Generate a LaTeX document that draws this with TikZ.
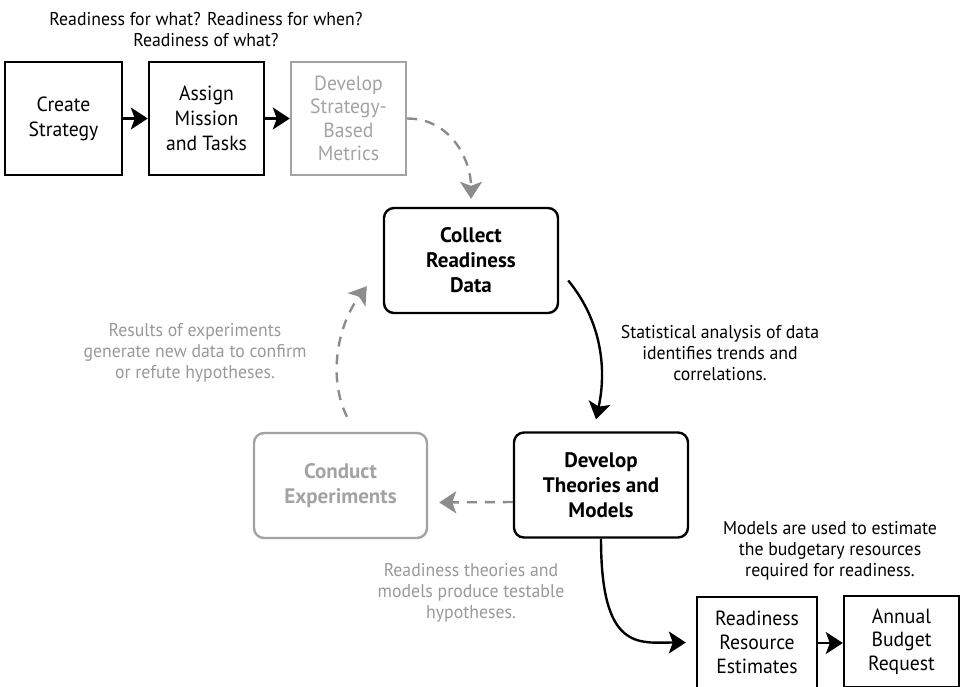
\documentclass[tikz,border=0pt]{standalone}
\usepackage{fontspec}
\setmainfont{PT Sans}[FakeStretch=0.96, BoldFeatures={FakeStretch=1.0}]
\usetikzlibrary{arrows.meta,calc}

\tikzset{
  stepbox/.style={draw, line width=2.4pt, minimum width=117pt, minimum height=113pt, align=center, inner sep=2pt, font=\fontsize{20.5}{25}\selectfont},
  roundbox/.style={draw, line width=2.4pt, rounded corners=10pt, minimum width=174pt, minimum height=105pt, align=center, font=\fontsize{21}{25}\selectfont\bfseries},
  faded/.style={draw=boxgray, text=boxgray},
  note/.style={align=center},
  arr/.style={line width=2.4pt, -{Stealth[length=17pt,width=22pt,inset=4pt]}},
  dasharr/.style={arr, arrowgray, dash pattern=on 10pt off 8pt}
}

\begin{document}
\begin{tikzpicture}[x=1pt, y=-1pt, font=\fontsize{18.5}{21}\selectfont]
  % Define colors
  \definecolor{boxgray}{HTML}{A3A3A3}   % faded boxes
  \definecolor{textgray}{HTML}{999999}  % faded notes
  \definecolor{arrowgray}{HTML}{8C8C8C} % dashed arrows

  \useasboundingbox (0,0) rectangle (960,686);
  \clip (0,0) rectangle (960,686);

  % Question on top
  \node[note] (question) at (206,30) {Readiness for what? Readiness for when?\\Readiness of what?};

  % Strategy chain
  \node[stepbox] (create) at (63.5,118.5) {Create\\Strategy};
  \node[stepbox, minimum width=115pt] (assign) at (206.5,118.5) {Assign\\Mission\\and Tasks};
  \node[stepbox, faded, minimum width=115pt, font=\fontsize{20.5}{23.3}\selectfont] (metrics) at (348.5,118.5) {Develop\\Strategy-\\Based\\Metrics};

  % Readiness cycle
  \node[roundbox] (collect) at (471,260.5) {Collect\\Readiness\\Data};
  \node[roundbox] (theories) at (601,485) {Develop\\Theories and\\Models};
  \node[roundbox, faded, minimum width=173pt] (conduct) at (340.5,485.5) {Conduct\\Experiments};

  % Budget boxes (cut at the bottom)
  \node[stepbox, minimum width=120pt, minimum height=91pt, font=\fontsize{20.5}{24}\selectfont] (estimates) at (757,642.5) {Readiness\\Resource\\Estimates};
  \node[stepbox, minimum width=115pt, minimum height=91pt, font=\fontsize{20.5}{23.5}\selectfont] (budget) at (901.5,641.5) {Annual\\Budget\\Request};

  % Notes
  \node[note] (stattxt) at (720,353) {Statistical analysis of data\\identifies trends and\\correlations.};
  \node[note, text=textgray] (resulttxt) at (195,353) {Results of experiments\\generate new data to confirm\\or refute hypotheses.};
  \node[note, text=textgray] (theorytxt) at (471,593) {Readiness theories and\\models produce testable\\hypotheses.};
  \node[note] (modeltxt) at (830,551) {Models are used to estimate\\the budgetary resources\\required for readiness.};

  % Arrows
  \draw[arr] (create) -- (assign);
  \draw[arr] (assign) -- (metrics);
  \draw[dasharr, shorten >=8pt] (metrics.east) .. controls +(45,0) and +(0,-45) .. (collect.north);
  \draw[arr] ($(collect.east)+(9,20)$) .. controls +(33,40) and +(11,-51) .. ($(theories.north)+(-5,-12)$);
  \draw[dasharr, shorten >=11pt] ($(theories.west)+(0,17)$) -- ($(conduct.east)+(0,17)$);
  \draw[dasharr] ($(conduct.north)+(6.5,-15)$) .. controls +(-19,-38) and +(-30,40) .. ($(collect.south west)+(-16,-28)$);
  \draw[arr, shorten >=10pt] (theories.south) .. controls +(0,113) and +(-57,0) .. (estimates.west);
  \draw[arr] (estimates.east |- 0,643) -- (budget.west |- 0,643);
\end{tikzpicture}
\end{document}
